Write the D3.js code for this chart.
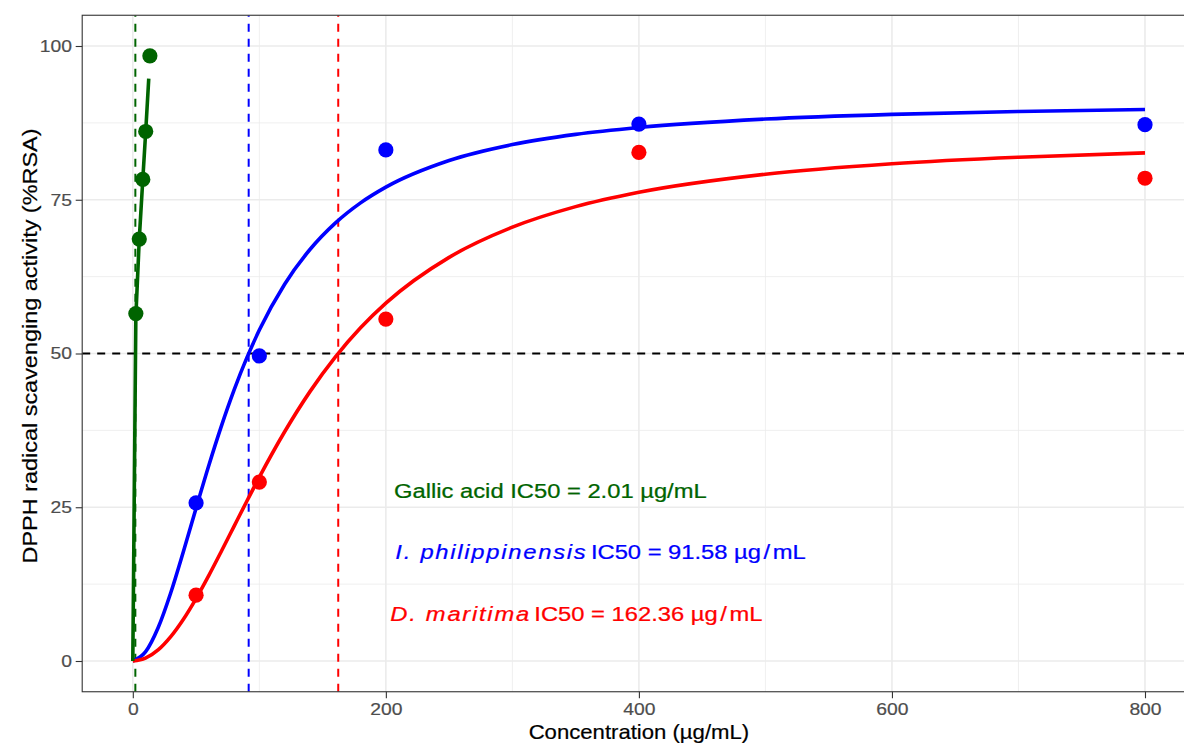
<!DOCTYPE html>
<html>
<head>
<meta charset="utf-8">
<script src="https://cdn.jsdelivr.net/npm/d3@7"></script>
<style>
  html, body { margin: 0; padding: 0; background: #fff; }
  svg { display: block; font-family: "Liberation Sans", Arial, Helvetica, sans-serif; }
</style>
</head>
<body>
<svg id="chart" width="1184" height="745"></svg>
<script>
// ---------------- data ----------------
const xTicks = [0, 200, 400, 600, 800];
const yTicks = [0, 25, 50, 75, 100];
const xMinor = [100, 300, 500, 700];
const yMinor = [12.5, 37.5, 62.5, 87.5];

// observed points
const gallicConc = [2.4, 5.1, 7.9, 10.2, 13.5];
const gallicRSA  = [56.5, 68.6, 78.3, 86.1, 98.4];
const extractConc = [50, 100, 200, 400, 800];
const philippRSA  = [25.7, 49.6, 83.1, 87.3, 87.2];
const maritimaRSA = [10.7, 29.1, 55.6, 82.7, 78.5];

// fitted curves
const gallicFitConc = [0, 2.4, 5.1, 7.9, 10.2, 12.6];
const gallicFitRSA  = [0, 56.0, 68.6, 78.3, 86.1, 94.7];
const fitConc = [0, 10, 20, 30, 40, 50, 60, 70, 80, 90, 100, 120, 140, 160, 180, 200, 250, 300, 350, 400, 500, 600, 700, 800];
const philippFit = [0, 1.47, 5.40, 11.10, 17.81, 24.85, 31.75, 38.19, 44.04, 49.24, 53.81, 61.27, 66.91, 71.20, 74.49, 77.05, 81.38, 83.97, 85.63, 86.75, 88.12, 88.89, 89.36, 89.68];
const maritimaFit = [0, 0.46, 1.80, 3.96, 6.79, 10.15, 13.88, 17.84, 21.90, 25.94, 29.89, 37.27, 43.80, 49.41, 54.17, 58.18, 65.63, 70.54, 73.88, 76.22, 79.16, 80.86, 81.92, 82.62];

// IC50 values
const ic50Names  = ["Gallic acid", "I. philippinensis", "D. maritima"];
const ic50Values = [2.01, 91.58, 162.36];
const seriesColors = ["#006400", "#0000FF", "#FF0000"];

// ---------------- layout ----------------
const svg = d3.select("#chart");
const panel = { left: 82.2, top: 15.25, right: 1195.6, bottom: 691.75 };

const x = d3.scaleLinear().domain([-40, 840]).range([panel.left, panel.right]);
const y = d3.scaleLinear().domain([-5, 105]).range([panel.bottom, panel.top]);

const clipId = "panelclip";
svg.append("defs").append("clipPath").attr("id", clipId)
  .append("rect").attr("x", panel.left).attr("y", panel.top)
  .attr("width", panel.right - panel.left).attr("height", panel.bottom - panel.top);

const plot = svg.append("g").attr("clip-path", `url(#${clipId})`);

// grid
plot.append("g").selectAll("line").data(xMinor).join("line")
  .attr("x1", d => x(d)).attr("x2", d => x(d))
  .attr("y1", panel.top).attr("y2", panel.bottom)
  .attr("stroke", "#EBEBEB").attr("stroke-width", 0.8);
plot.append("g").selectAll("line").data(yMinor).join("line")
  .attr("y1", d => y(d)).attr("y2", d => y(d))
  .attr("x1", panel.left).attr("x2", panel.right)
  .attr("stroke", "#EBEBEB").attr("stroke-width", 0.8);
plot.append("g").selectAll("line").data(xTicks).join("line")
  .attr("x1", d => x(d)).attr("x2", d => x(d))
  .attr("y1", panel.top).attr("y2", panel.bottom)
  .attr("stroke", "#EBEBEB").attr("stroke-width", 1.6);
plot.append("g").selectAll("line").data(yTicks).join("line")
  .attr("y1", d => y(d)).attr("y2", d => y(d))
  .attr("x1", panel.left).attr("x2", panel.right)
  .attr("stroke", "#EBEBEB").attr("stroke-width", 1.6);

// reference lines
plot.append("line")
  .attr("x1", panel.left).attr("x2", panel.right)
  .attr("y1", y(50)).attr("y2", y(50))
  .attr("stroke", "#000").attr("stroke-width", 2)
  .attr("stroke-dasharray", "8,7");
plot.append("g").selectAll("line").data(ic50Values).join("line")
  .attr("x1", d => x(d)).attr("x2", d => x(d))
  .attr("y1", panel.bottom).attr("y2", panel.top)
  .attr("stroke", (d, i) => seriesColors[i]).attr("stroke-width", 2)
  .attr("stroke-dasharray", "8,7");

// fitted curves
const lineGen = d3.line().x(d => x(d[0])).y(d => y(d[1])).curve(d3.curveMonotoneX);
const polyGen = d3.line().x(d => x(d[0])).y(d => y(d[1]));
plot.append("path")
  .attr("d", lineGen(fitConc.map((c, i) => [c, philippFit[i]])))
  .attr("fill", "none").attr("stroke", seriesColors[1]).attr("stroke-width", 3.6);
plot.append("path")
  .attr("d", lineGen(fitConc.map((c, i) => [c, maritimaFit[i]])))
  .attr("fill", "none").attr("stroke", seriesColors[2]).attr("stroke-width", 3.6);
plot.append("path")
  .attr("d", polyGen(gallicFitConc.map((c, i) => [c, gallicFitRSA[i]])))
  .attr("fill", "none").attr("stroke", seriesColors[0]).attr("stroke-width", 3.6)
  .attr("stroke-linejoin", "round");

// points
const ptR = 7.6;
plot.append("g").selectAll("circle").data(gallicConc.map((c, i) => [c, gallicRSA[i]])).join("circle")
  .attr("cx", d => x(d[0])).attr("cy", d => y(d[1])).attr("r", ptR).attr("fill", seriesColors[0]);
plot.append("g").selectAll("circle").data(extractConc.map((c, i) => [c, philippRSA[i]])).join("circle")
  .attr("cx", d => x(d[0])).attr("cy", d => y(d[1])).attr("r", ptR).attr("fill", seriesColors[1]);
plot.append("g").selectAll("circle").data(extractConc.map((c, i) => [c, maritimaRSA[i]])).join("circle")
  .attr("cx", d => x(d[0])).attr("cy", d => y(d[1])).attr("r", ptR).attr("fill", seriesColors[2]);

// annotations
const annoFont = 20.4, annoK = 1.165;
const annoPos = [[206.5, 28], [207.5, 18], [203.5, 8]];
function annoText(i) {
  return plot.append("text")
    .attr("transform", `translate(${x(annoPos[i][0])},${y(annoPos[i][1])}) scale(${annoK},1)`)
    .attr("dy", "0.44em")
    .attr("font-size", annoFont)
    .attr("fill", seriesColors[i])
    .attr("stroke", seriesColors[i]).attr("stroke-width", 0.25);
}
annoText(0).text(`${ic50Names[0]} IC50 = ${ic50Values[0].toFixed(2)} µg/mL`);
for (const i of [1, 2]) {
  const t = annoText(i);
  t.append("tspan").attr("font-style", "italic").attr("letter-spacing", 1.5).text(ic50Names[i]);
  t.append("tspan").attr("dx", 3).text(`IC50 = ${ic50Values[i].toFixed(2)} µg`);
  t.append("tspan").attr("dx", 2.2).text("/");
  t.append("tspan").attr("dx", 2.2).text("mL");
}

// panel border
svg.append("rect")
  .attr("x", panel.left).attr("y", panel.top)
  .attr("width", panel.right - panel.left).attr("height", panel.bottom - panel.top)
  .attr("fill", "none").attr("stroke", "#333333").attr("stroke-width", 1.1);

// axes
const tickK = 1.15, tickFont = 16.8;
const xAxis = svg.append("g").attr("transform", `translate(0,${panel.bottom})`)
  .call(d3.axisBottom(x).tickValues(xTicks).tickSize(6.5).tickPadding(4.6).tickFormat(d3.format("d")));
xAxis.select(".domain").remove();
xAxis.selectAll(".tick line").attr("stroke", "#333333").attr("stroke-width", 1.1);
xAxis.selectAll(".tick text")
  .attr("font-size", tickFont).attr("font-family", null).attr("fill", "#4D4D4D")
  .attr("stroke", "#4D4D4D").attr("stroke-width", 0.2)
  .attr("transform", `scale(${tickK},1)`);

const yAxis = svg.append("g").attr("transform", `translate(${panel.left},0)`)
  .call(d3.axisLeft(y).tickValues(yTicks).tickSize(6.5).tickPadding(3.8).tickFormat(d3.format("d")));
yAxis.select(".domain").remove();
yAxis.selectAll(".tick line").attr("stroke", "#333333").attr("stroke-width", 1.1);
yAxis.selectAll(".tick text")
  .attr("font-size", tickFont).attr("font-family", null).attr("fill", "#4D4D4D")
  .attr("stroke", "#4D4D4D").attr("stroke-width", 0.2)
  .attr("x", -10.3 / tickK)
  .attr("transform", `scale(${tickK},1)`);

// axis titles
svg.append("text")
  .attr("transform", `translate(${(panel.left + panel.right) / 2},739.3) scale(1.054,1)`)
  .attr("text-anchor", "middle").attr("font-size", 21).attr("fill", "#000")
  .attr("stroke", "#000").attr("stroke-width", 0.2)
  .text("Concentration (µg/mL)");
svg.append("text")
  .attr("transform", `translate(36.5,${(panel.top + panel.bottom) / 2 - 7.5}) rotate(-90) scale(1.116,1)`)
  .attr("text-anchor", "middle").attr("font-size", 21).attr("fill", "#000")
  .attr("stroke", "#000").attr("stroke-width", 0.2)
  .text("DPPH radical scavenging activity (%RSA)");
</script>
</body>
</html>
